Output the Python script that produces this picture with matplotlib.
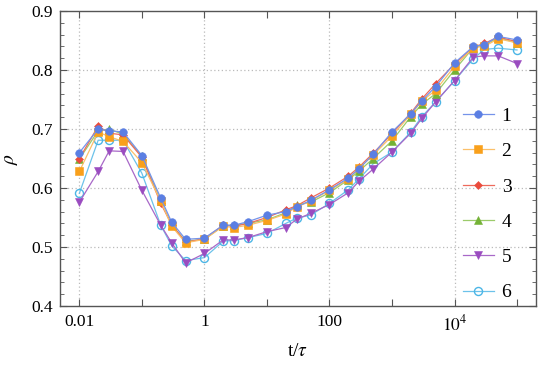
import numpy as np
import matplotlib
matplotlib.use("Agg")
import matplotlib.pyplot as plt
from matplotlib.ticker import FixedLocator, FixedFormatter, MultipleLocator

plt.rcParams['font.family'] = ['Liberation Serif', 'DejaVu Serif']
plt.rcParams['mathtext.fontset'] = 'stix'

#%% Data
t = [0.01, 0.02, 0.03, 0.05, 0.1, 0.2, 0.3, 0.5, 1, 2, 3, 5, 10, 20, 30, 50,
     100, 200, 300, 500, 1000, 2000, 3000, 5000, 1e4, 2e4, 3e4, 5e4, 1e5]

rho1 = [0.660, 0.700, 0.697, 0.695, 0.655, 0.583, 0.542, 0.513, 0.515, 0.537, 0.537, 0.543, 0.554, 0.560, 0.568, 0.579,
        0.597, 0.617, 0.633, 0.657, 0.695, 0.726, 0.748, 0.772, 0.812, 0.840, 0.843, 0.857, 0.851]
rho2 = [0.628, 0.695, 0.687, 0.679, 0.643, 0.578, 0.535, 0.507, 0.513, 0.535, 0.533, 0.537, 0.545, 0.556, 0.568, 0.578,
        0.596, 0.615, 0.634, 0.656, 0.688, 0.725, 0.747, 0.766, 0.806, 0.838, 0.840, 0.853, 0.846]
rho3 = [0.650, 0.705, 0.693, 0.690, 0.652, 0.574, 0.538, 0.508, 0.514, 0.537, 0.535, 0.540, 0.550, 0.563, 0.570, 0.583,
        0.600, 0.620, 0.636, 0.659, 0.692, 0.727, 0.751, 0.777, 0.810, 0.839, 0.845, 0.856, 0.848]
rho4 = [0.649, 0.697, 0.700, 0.691, 0.654, 0.578, 0.537, 0.510, 0.513, 0.536, 0.537, 0.540, 0.546, 0.558, 0.571, 0.576,
        0.592, 0.614, 0.629, 0.650, 0.680, 0.721, 0.742, 0.760, 0.800, 0.838, 0.842, 0.855, 0.846]
rho5 = [0.576, 0.628, 0.663, 0.662, 0.596, 0.537, 0.507, 0.473, 0.489, 0.512, 0.512, 0.516, 0.526, 0.533, 0.547, 0.557,
        0.572, 0.592, 0.612, 0.632, 0.661, 0.693, 0.718, 0.746, 0.782, 0.822, 0.824, 0.824, 0.811]
rho6 = [0.591, 0.681, 0.681, 0.681, 0.625, 0.537, 0.502, 0.477, 0.482, 0.510, 0.511, 0.516, 0.523, 0.540, 0.549, 0.554,
        0.574, 0.597, 0.616, 0.641, 0.661, 0.695, 0.721, 0.746, 0.782, 0.819, 0.835, 0.837, 0.834]

labels = ['1', '2', '3', '4', '5', '6']
series = [rho1, rho2, rho3, rho4, rho5, rho6]

#%% Styles
mcol = ['#5b7fe3', '#f9a01b', '#ea4b3c', '#74b236', '#9a4cc0', '#4cb6e6']
lcol = ['#7593ea', '#fbc06a', '#ee6a5c', '#9ccb6a', '#a868c8', '#6cc2ea']
marks = ['o', 's', 'D', '^', 'v', 'o']
msize = [5.5, 5.5, 3.6, 6, 6, 5.8]

#%% Plotting
fig = plt.figure(figsize=(5.38, 3.68), dpi=100)
ax = fig.add_axes([0.1115, 0.1685, 0.8845, 0.8015])

for i in range(6):
    face = 'none' if i == 5 else mcol[i]
    ax.plot(t, series[i], color=lcol[i], lw=0.9, marker=marks[i], ms=msize[i],
            mfc=face, mec=mcol[i], mew=1.0 if i == 5 else 0.4, label=labels[i],
            zorder=3 + (5 - i) * 0.1)

ax.set_xscale('log')
ax.set_xlim(0.0049, 2.0e5)
ax.set_ylim(0.4, 0.9)

dec = [1e-2, 1e-1, 1, 10, 100, 1e3, 1e4, 1e5]
ax.xaxis.set_major_locator(FixedLocator(dec))
ax.xaxis.set_major_formatter(FixedFormatter(['0.01', '', '1', '', '100', '', r'$10^4$', '']))
ax.xaxis.set_minor_locator(FixedLocator([]))
ax.yaxis.set_major_locator(MultipleLocator(0.1))
ax.yaxis.set_minor_locator(MultipleLocator(0.02))
ax.yaxis.set_major_formatter(plt.FuncFormatter(lambda v, p: '%.1f' % v))

ax.tick_params(which='both', direction='in', top=True, right=True, labelsize=12.5,
               color='#555555')
ax.tick_params(which='major', length=5, width=0.8)
ax.tick_params(which='minor', length=3, width=0.6)
ax.tick_params(axis='x', pad=6)
ax.tick_params(axis='y', pad=5)
for s in ax.spines.values():
    s.set_color('#555555')
    s.set_linewidth(1.0)

for g in [0.01, 1, 100, 1e4]:
    ax.axvline(g, color='#bbbbbb', ls=(0, (1, 2)), lw=0.9, zorder=1)
for g in [0.5, 0.6, 0.7, 0.8]:
    ax.axhline(g, color='#bbbbbb', ls=(0, (1, 2)), lw=0.9, zorder=1)

ax.set_xlabel(r't/$\tau$', fontsize=14, labelpad=6)
ax.set_ylabel(r'$\rho$', fontsize=14, labelpad=8)

ax.legend(loc='upper left', bbox_to_anchor=(0.83, 0.70), frameon=False, fontsize=14,
          handlelength=1.6, labelspacing=0.91, handletextpad=0.4, borderaxespad=0)

fig.savefig('out.png', dpi=100)
